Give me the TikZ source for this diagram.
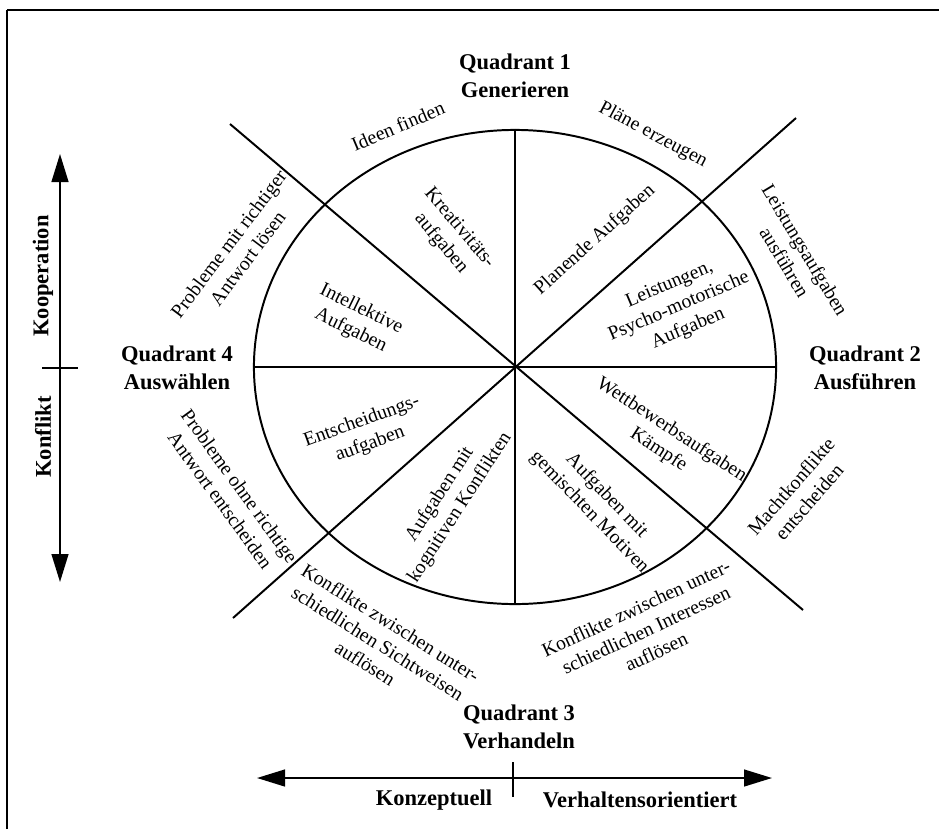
\documentclass[tikz,border=0pt]{standalone}
\usepackage{fontspec}
\setmainfont{Liberation Serif}
\usetikzlibrary{shapes.geometric,arrows.meta}
\tikzset{
  quadname/.style={font=\bfseries\fontsize{16}{20}\selectfont, align=center, inner sep=0pt},
  axisname/.style={font=\bfseries\fontsize{16}{20}\selectfont, inner sep=0pt},
  tasktext/.style={font=\fontsize{14}{17}\selectfont, align=center, inner sep=0pt},
  axistip/.tip={Triangle[length=0.7cm,width=0.42cm]},
}
\begin{document}
\begin{tikzpicture}[x=0.025cm, y=0.025cm, line width=1.4pt]
\useasboundingbox (0,0) rectangle (939,-829);
\coordinate (frameB) at (7,-829);
\coordinate (frameC) at (7,-10);
\coordinate (frameR) at (939,-10);
\path [-, draw=black] (frameB) edge (frameC);
\path [-, draw=black] (frameC) edge (frameR);
\node[shape=ellipse, draw=black, inner sep=0pt, minimum width=13.05cm, minimum height=11.85cm] (wheel) at (515,-367) {};
\coordinate (ul) at (230,-124);
\coordinate (ur) at (796,-118);
\coordinate (ll) at (233,-618);
\coordinate (lr) at (803,-610);
\path [-, draw=black] (wheel.north) edge (wheel.south);
\path [-, draw=black] (wheel.west) edge (wheel.east);
\path [-, draw=black] (ul) edge (lr);
\path [-, draw=black] (ur) edge (ll);
\node[quadname] (q1) at (515,-76) {Quadrant 1\\Generieren};
\node[quadname] (q2) at (865,-368) {Quadrant 2\\Ausführen};
\node[quadname] (q3) at (519,-727) {Quadrant 3\\Verhandeln};
\node[quadname] (q4) at (177,-368) {Quadrant 4\\Auswählen};
\node[tasktext, rotate=23] (ideen) at (398,-126) {Ideen finden};
\node[tasktext, rotate=-28] (plaene) at (653,-135) {Pläne erzeugen};
\node[tasktext, rotate=53] (prob1) at (238,-251) {Probleme mit richtiger\\Antwort lösen};
\node[tasktext, rotate=-59] (leist) at (795,-256) {Leistungsaufgaben\\ausführen};
\node[tasktext, rotate=-54] (prob2) at (230,-493) {Probleme ohne richtige\\Antwort entscheiden};
\node[tasktext, rotate=49] (macht) at (800,-494) {Machtkonflikte\\entscheiden};
\node[tasktext, rotate=-32] (sicht) at (378,-643) {Konflikte zwischen unter-\\schiedlichen Sichtweisen\\auflösen};
\node[tasktext, rotate=25] (inter) at (646,-630) {Konflikte zwischen unter-\\schiedlichen Interessen\\auflösen};
\node[tasktext, rotate=-50] (kreat) at (450,-236) {Kreativitäts-\\aufgaben};
\node[tasktext, rotate=42] (plan) at (595,-240) {Planende Aufgaben};
\node[tasktext, rotate=-26] (intel) at (356,-320) {Intellektive\\Aufgaben};
\node[tasktext, rotate=23] (psycho) at (679,-307) {Leistungen,\\Psycho-motorische\\Aufgaben};
\node[tasktext, rotate=20] (entsch) at (366,-433) {Entscheidungs-\\aufgaben};
\node[tasktext, rotate=57] (kogn) at (450,-501) {Aufgaben mit\\kognitiven Konflikten};
\node[tasktext, rotate=-46] (motiv) at (598,-504) {Aufgaben mit\\gemischten Motiven};
\node[tasktext, rotate=-33] (wettb) at (665,-440) {Wettbewerbsaufgaben\\Kämpfe};
\coordinate (koop) at (60,-154);
\coordinate (konf) at (60,-582);
\coordinate (vtickL) at (42,-368);
\coordinate (vtickR) at (78,-368);
\draw [axistip-axistip] (konf) -- (koop);
\path [-, draw=black] (vtickL) edge (vtickR);
\node[axisname, rotate=90] (kooptext) at (43,-276) {Kooperation};
\node[axisname, rotate=90] (konftext) at (43,-437) {Konflikt};
\coordinate (konz) at (257,-778);
\coordinate (verh) at (772,-778);
\coordinate (htickT) at (513,-762);
\coordinate (htickB) at (513,-797);
\draw [axistip-axistip] (konz) -- (verh);
\path [-, draw=black] (htickT) edge (htickB);
\node[axisname] (konztext) at (434,-800) {Konzeptuell};
\node[axisname] (verhtext) at (640,-800) {Verhaltensorientiert};
\end{tikzpicture}
\end{document}
